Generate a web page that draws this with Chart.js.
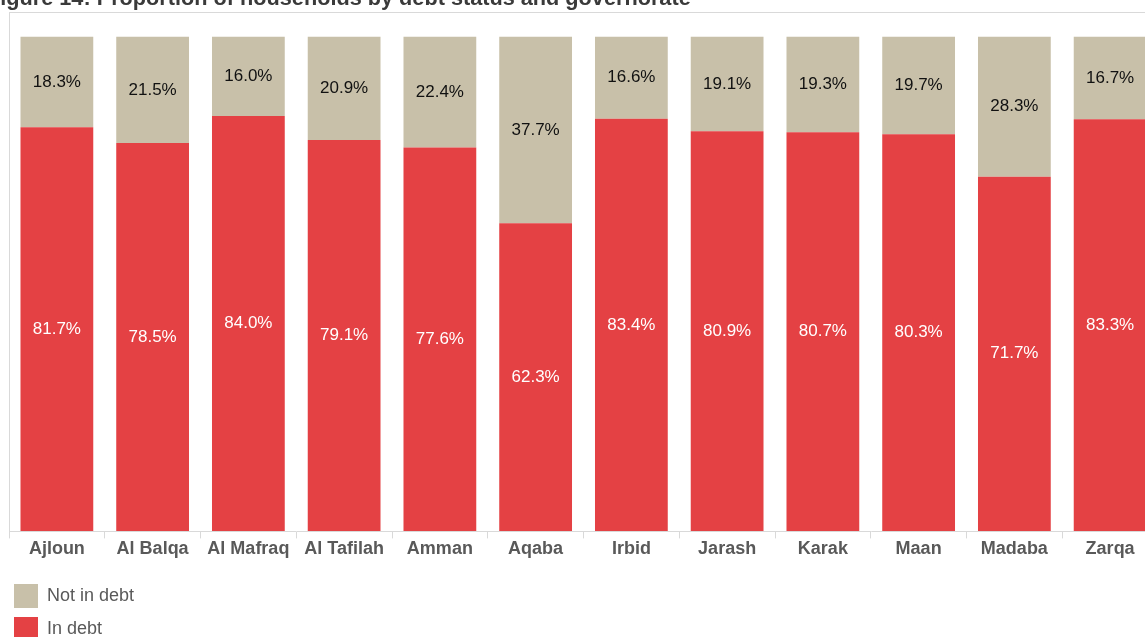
<!DOCTYPE html>
<html>
<head>
<meta charset="utf-8">
<script src="https://cdn.jsdelivr.net/npm/chart.js@4"></script>
<style>
  html, body { margin: 0; padding: 0; background: #fff; overflow: hidden; }
  #wrap { position: absolute; left: 0; top: 0; width: 1158px; height: 637px; }
  #title {
    position: absolute; left: -13px; top: -15px; white-space: nowrap;
    font: bold 21.7px "Liberation Sans", Arial, sans-serif; color: #3a3a3a;
  }
</style>
</head>
<body>
<div id="wrap"><canvas id="debtChart"></canvas></div>
<div id="title">Figure 14: Proportion of households by debt status and governorate</div>
<script>
// governorates and shares (%)
const governorates = ["Ajloun", "Al Balqa", "Al Mafraq", "Al Tafilah", "Amman", "Aqaba",
                      "Irbid", "Jarash", "Karak", "Maan", "Madaba", "Zarqa"];
const inDebt    = [81.7, 78.5, 84.0, 79.1, 77.6, 62.3, 83.4, 80.9, 80.7, 80.3, 71.7, 83.3];
const notInDebt = [18.3, 21.5, 16.0, 20.9, 22.4, 37.7, 16.6, 19.1, 19.3, 19.7, 28.3, 16.7];

const RED = "#E44144";
const BEIGE = "#C8C0A9";
const FONT = '"Liberation Sans", Arial, sans-serif';

// percentage text in the middle of each segment
const segmentLabels = {
    id: "segmentLabels",
    afterDatasetsDraw(chart) {
        const ctx = chart.ctx;
        ctx.save();
        ctx.font = "17px " + FONT;
        ctx.textAlign = "center";
        ctx.textBaseline = "middle";
        chart.data.datasets.forEach((ds, i) => {
            chart.getDatasetMeta(i).data.forEach((bar, j) => {
                ctx.fillStyle = ds.labelColor;
                ctx.fillText(ds.data[j].toFixed(1) + "%", bar.x, (bar.y + bar.base) / 2);
            });
        });
        ctx.restore();
    }
};

// stacked legend in the bottom-left corner
const sideLegend = {
    id: "sideLegend",
    afterDraw(chart) {
        const ctx = chart.ctx;
        ctx.save();
        ctx.font = "18px " + FONT;
        ctx.textBaseline = "middle";
        const items = chart.data.datasets.slice().reverse();
        items.forEach((ds, k) => {
            const y = 584 + k * 33;
            ctx.fillStyle = ds.backgroundColor;
            ctx.fillRect(14, y, 24, 24);
            ctx.fillStyle = "#595959";
            ctx.fillText(ds.label, 47, y + 12);
        });
        ctx.restore();
    }
};

new Chart(document.getElementById("debtChart"), {
    type: "bar",
    data: {
        labels: governorates,
        datasets: [
            { label: "In debt", data: inDebt, backgroundColor: RED, labelColor: "#ffffff" },
            { label: "Not in debt", data: notInDebt, backgroundColor: BEIGE, labelColor: "#111111" }
        ]
    },
    options: {
        responsive: true,
        maintainAspectRatio: false,
        animation: false,
        layout: { padding: { left: 9, right: 0, top: 12, bottom: 77 } },
        datasets: { bar: { categoryPercentage: 1, barPercentage: 0.76 } },
        plugins: {
            legend: { display: false },
            tooltip: { enabled: false }
        },
        scales: {
            x: {
                stacked: true,
                border: { color: "#d9d9d9" },
                grid: { drawOnChartArea: false, tickLength: 7, color: "#d9d9d9" },
                ticks: {
                    color: "#595959",
                    padding: 0,
                    font: { family: FONT, size: 18, weight: "bold" }
                }
            },
            y: {
                stacked: true,
                min: 0,
                max: 105,
                border: { color: "#d9d9d9" },
                ticks: { display: false, stepSize: 105 },
                grid: {
                    drawTicks: false,
                    color: (c) => (c.tick && c.tick.value === 105 ? "#d9d9d9" : "rgba(0,0,0,0)")
                }
            }
        }
    },
    plugins: [segmentLabels, sideLegend]
});
</script>
</body>
</html>
